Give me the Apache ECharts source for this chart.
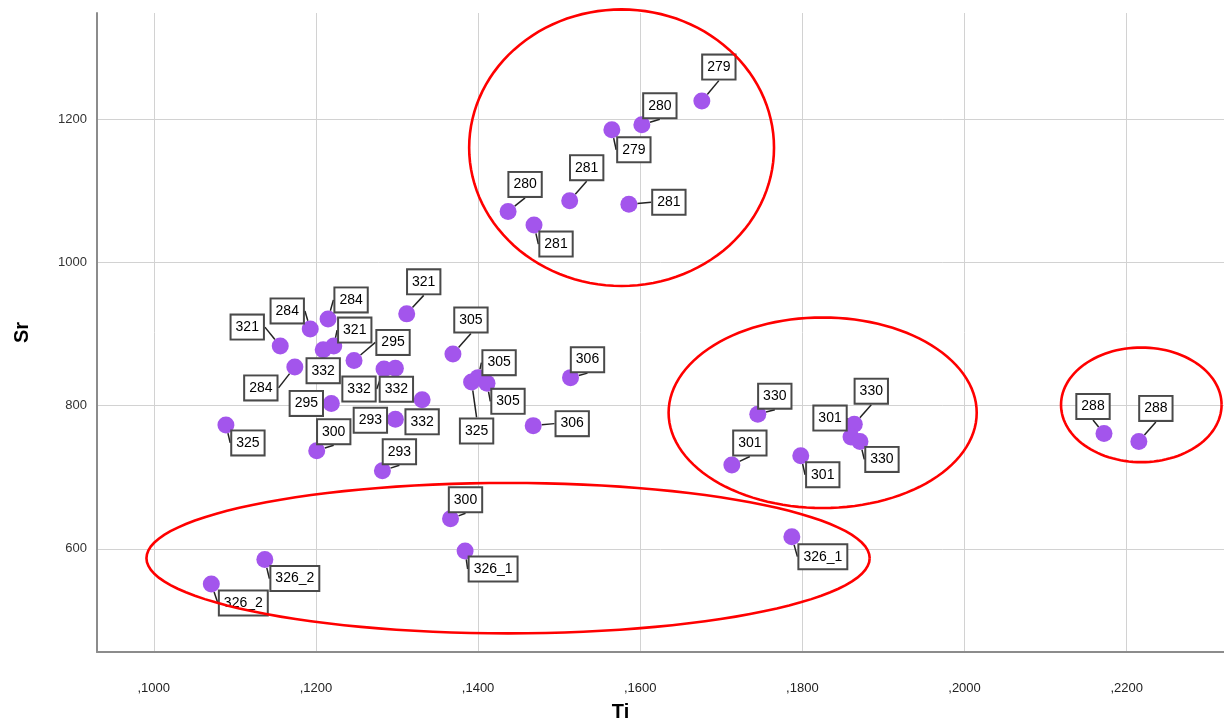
<!DOCTYPE html>
<html>
<head>
<meta charset="utf-8">
<title>Sr vs Ti</title>
<script src="https://cdn.jsdelivr.net/npm/echarts@6/dist/echarts.min.js"></script>
<style>
  html, body { margin: 0; padding: 0; background: #fff; }
  #chart { width: 1224px; height: 727px; }
</style>
</head>
<body>
<div id="chart"></div>
<script>
// Sample identifiers and measured Ti / Sr values
const sampleIds = [
  '279', '280', '279', '281', '281', '280', '281',
  '321', '284', '284', '321', '321', '332', '295', '284',
  '332', '332', '332', '295', '293', '325', '300', '293',
  '305', '325', '305', '305', '306', '306',
  '330', '301', '301', '330', '301', '330',
  '288', '288',
  '326_2', '326_2', '300', '326_1', '326_1'
];
const tiValues = [
  1676, 1602, 1565, 1513, 1586, 1437, 1469,
  1312, 1215, 1193, 1156, 1222, 1209, 1247, 1174,
  1284, 1298, 1331, 1219, 1298, 1089, 1201, 1282,
  1369, 1392, 1400, 1411, 1514, 1468,
  1745, 1713, 1798, 1864, 1860, 1871,
  2172, 2215,
  1137, 1071, 1366, 1384, 1787
];
const srValues = [
  1225, 1192, 1185, 1086, 1081, 1071, 1052,
  928, 921, 907, 883, 883, 878, 863, 854,
  851, 852, 808, 803, 781, 773, 737, 709,
  872, 833, 839, 831, 839, 772,
  788, 717, 730, 774, 756, 750,
  761, 750,
  585, 551, 642, 597, 617
];

// Axis tick values
const tiTicks = [1000, 1200, 1400, 1600, 1800, 2000, 2200];
const srTicks = [600, 800, 1000, 1200];

// Group outlines: centre Ti, centre Sr, Ti radius, Sr radius
const groupOutlines = [
  [1577, 1160, 188, 193],
  [1825, 790, 190, 133],
  [2218, 801, 99, 80],
  [1437, 587, 446, 105]
];

// Where each sample tag sits relative to its point (pixels)
const tagOffsets = [
  [17, -34], [18, -19], [22, 20], [17, -33], [40, -2], [17, -27], [22, 19],
  [17, -32], [23, -19], [-23, -18], [-33, -19], [21, -16], [0, 21], [39, -18], [-34, 21],
  [-25, 20], [1, 21], [0, 22], [-25, 0], [-25, 1], [22, 18], [17, -19], [17, -19],
  [18, -34], [5, 49], [21, -15], [21, 18], [17, -18], [39, -2],
  [17, -18], [18, -22], [22, 19], [17, -33], [-21, -19], [22, 18],
  [-11, -27], [17, -33],
  [30, 19], [32, 19], [15, -19], [28, 18], [31, 20]
];

const points = tiValues.map((t, i) => ({ value: [t, srValues[i]], name: sampleIds[i] }));

const chart = echarts.init(document.getElementById('chart'), null, { renderer: 'canvas' });

chart.setOption({
  animation: false,
  backgroundColor: '#ffffff',
  grid: { left: 97, top: 13, right: 0, bottom: 75, containLabel: false },
  xAxis: {
    type: 'value',
    min: 930,
    max: 2320,
    name: 'Ti',
    nameLocation: 'middle',
    nameGap: 50,
    nameTextStyle: {
      fontFamily: 'Liberation Sans', fontWeight: 'bold', fontSize: 20, color: '#000',
      padding: [0, 80, 0, 0]
    },
    axisLine: { show: true, onZero: false, lineStyle: { color: '#8c8c8c', width: 2 } },
    axisTick: { show: false, customValues: tiTicks },
    axisLabel: {
      customValues: tiTicks,
      margin: 30,
      fontFamily: 'Liberation Sans Narrow, Liberation Sans',
      fontSize: 13,
      color: '#222',
      formatter: v => ',' + v
    },
    splitLine: { show: true, lineStyle: { color: '#d2d2d2', width: 1 } }
  },
  yAxis: {
    type: 'value',
    min: 456,
    max: 1348,
    name: 'Sr',
    nameLocation: 'middle',
    nameGap: 65,
    nameTextStyle: { fontFamily: 'Liberation Sans', fontWeight: 'bold', fontSize: 20, color: '#000' },
    axisLine: { show: true, onZero: false, lineStyle: { color: '#8c8c8c', width: 2 } },
    axisTick: { show: false, customValues: srTicks },
    axisLabel: {
      customValues: srTicks,
      margin: 10,
      fontFamily: 'Liberation Sans',
      fontSize: 13,
      color: '#333',
      formatter: v => String(v)
    },
    splitLine: { show: true, lineStyle: { color: '#d2d2d2', width: 1 } }
  },
  series: [
    {
      type: 'scatter',
      z: 3,
      symbol: 'circle',
      symbolSize: 17,
      itemStyle: { color: '#a355ec', opacity: 1 },
      data: points,
      label: {
        show: true,
        position: 'inside',
        formatter: p => p.name,
        fontFamily: 'Liberation Sans',
        fontSize: 14,
        color: '#000',
        backgroundColor: '#ffffff',
        borderColor: '#4a4a4a',
        borderWidth: 2,
        padding: [5, 4, 4, 4]
      },
      labelLine: {
        show: true,
        lineStyle: { color: '#222', width: 1.5 }
      },
      labelLayout: params => {
        const o = tagOffsets[params.dataIndex];
        return { dx: o[0], dy: o[1] };
      },
      emphasis: { disabled: true }
    },
    {
      type: 'custom',
      z: 10,
      clip: false,
      silent: true,
      data: groupOutlines,
      encode: { x: 0, y: 1 },
      renderItem: (params, api) => {
        const c = api.coord([api.value(0), api.value(1)]);
        const s = api.size([api.value(2), api.value(3)]);
        const pts = [];
        for (let k = 0; k <= 120; k++) {
          const a = (k / 120) * Math.PI * 2;
          pts.push([c[0] + s[0] * Math.cos(a), c[1] + s[1] * Math.sin(a)]);
        }
        return {
          type: 'polyline',
          shape: { points: pts },
          style: { stroke: '#f00', lineWidth: 2.6, fill: null }
        };
      }
    }
  ]
});
</script>
</body>
</html>
